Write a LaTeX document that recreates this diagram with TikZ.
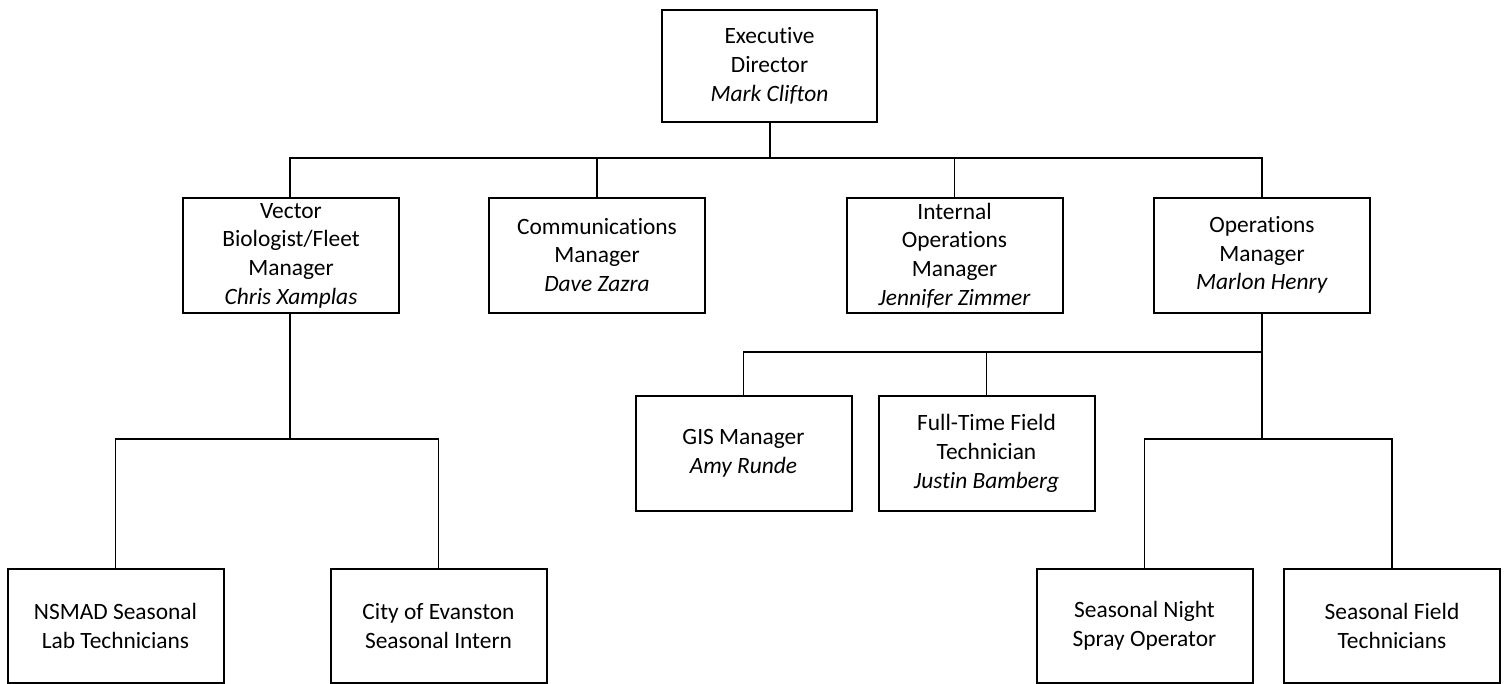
\documentclass[tikz,border=0pt]{standalone}
\usepackage{fontspec}
\setmainfont[Ligatures=NoCommon]{Carlito}
\begin{document}
\begin{tikzpicture}[x=1pt,y=-1pt,
  box/.style={draw=black,line width=2pt,rectangle,align=center,inner sep=0pt,
    font=\fontsize{23.4}{28.7}\selectfont},
  lvl/.style={box,minimum width=216pt,minimum height=115pt},
  thin/.style={line width=1.1pt},
  thick/.style={line width=2pt}]
\useasboundingbox (0,0) rectangle (1505,683);
\fill[white] (0,0) rectangle (1505,683);
% nodes
\node[box,minimum width=215pt,minimum height=112pt] (exec) at (769.5,66) {Executive\\Director\\\textit{Mark Clifton}};
\node[lvl] (vb) at (291,255.5) {Vector\\Biologist/Fleet\\Manager\\\textit{Chris Xamplas}};
\node[lvl] (comm) at (597,255) {Communications\\Manager\\\textit{Dave Zazra}};
\node[lvl] (int) at (954.5,255.5) {Internal\\Operations\\Manager\\\textit{Jennifer Zimmer}};
\node[lvl] (ops) at (1262,255) {Operations\\Manager\\\textit{Marlon Henry}};
\node[lvl] (gis) at (743.5,453.5) {GIS Manager\\\textit{Amy Runde}};
\node[lvl] (ft) at (986.5,453.5) {Full-Time Field\\Technician\\\textit{Justin Bamberg}};
\node[lvl,minimum height=114pt] (nsmad) at (115.5,626) {NSMAD Seasonal\\Lab Technicians};
\node[lvl,minimum height=114pt] (city) at (438.5,626) {City of Evanston\\Seasonal Intern};
\node[lvl,minimum height=114pt] (snight) at (1144.5,626) {Seasonal Night\\Spray Operator};
\node[lvl,minimum height=114pt] (sfield) at (1392,626) {Seasonal Field\\Technicians};
% junctions
\coordinate (j1) at (769.5,158);
\coordinate (j2) at (1262,352);
\coordinate (j3) at (1262,439);
\coordinate (j4) at (290,439);
% connectors
\draw[thick] (exec.south) -- (j1);
\draw[thin] (vb.north -| 290,0) |- (j1) -| (ops.north);
\draw[thin] (comm.north) -- (comm.north |- j1);
\draw[thin] (int.north) -- (int.north |- j1);
\draw[thick] (ops.south) -- (j3);
\draw[thin] (gis.north) |- (ft.north |- j2);
\draw[thick] (ft.north |- j2) -- (j2);
\draw[thin] (ft.north) -- (ft.north |- j2);
\draw[thin] (snight.north) |- (j3) -| (sfield.north);
\draw[thick] (vb.south -| 290,0) -- (j4);
\draw[thin] (nsmad.north) |- (j4) -| (city.north);
\end{tikzpicture}
\end{document}
